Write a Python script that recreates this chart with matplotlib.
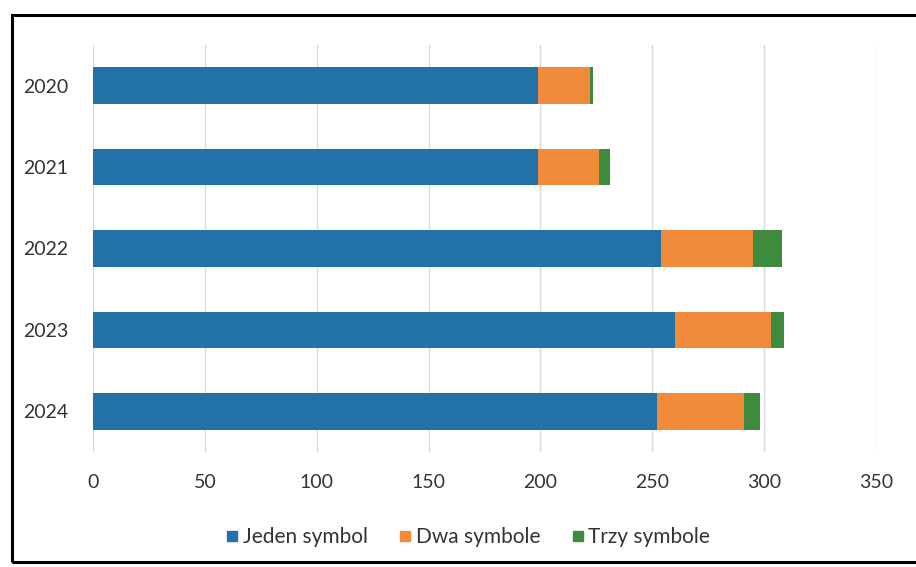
import matplotlib
matplotlib.use("Agg")
import matplotlib.pyplot as plt
from matplotlib.patches import Rectangle
from matplotlib.lines import Line2D

years = ["2020", "2021", "2022", "2023", "2024"]
jeden = [199, 199, 254, 260, 252]
dwa = [23, 27, 41, 43, 39]
trzy = [1.5, 5, 13, 6, 7]
series_names = ["Jeden symbol", "Dwa symbole", "Trzy symbole"]
colors = ["#2272A8", "#F28A3C", "#3E8B3E"]
xticks = [0, 50, 100, 150, 200, 250, 300, 350]

plt.rcParams['font.family'] = ['Lato', 'DejaVu Sans']

fig = plt.figure(figsize=(9.16, 5.67), dpi=100)
ax = fig.add_axes([93/916, 1 - 452/567, (876 - 93)/916, (452 - 45)/567])

ypos = list(range(len(years)))
h = 0.45
left2 = [a for a in jeden]
left3 = [a + b for a, b in zip(jeden, dwa)]
ax.barh(ypos, jeden, height=h, color=colors[0], zorder=3)
ax.barh(ypos, dwa, left=left2, height=h, color=colors[1], zorder=3)
ax.barh(ypos, trzy, left=left3, height=h, color=colors[2], zorder=3)

ax.set_xlim(0, 350)
ax.set_ylim(len(years) - 0.5, -0.5)
ax.set_xticks(xticks)
ax.set_xticklabels([str(t) for t in xticks])
ax.set_yticks(ypos)
ax.set_yticklabels(years)
ax.tick_params(axis='both', length=0, labelsize=14, colors="#333333")
ax.tick_params(axis='x', pad=16)
ax.tick_params(axis='y', pad=18)
ax.grid(axis='x', color="#DADADA", linewidth=1, zorder=0)
for s in ax.spines.values():
    s.set_visible(False)

handles = [Line2D([0], [0], marker='s', linestyle='None', markersize=7,
                  markerfacecolor=c, markeredgecolor=c) for c in colors]
fig.legend(handles, series_names, loc='center', bbox_to_anchor=(466/916, 1 - 537/567),
           ncol=3, frameon=False, fontsize=15, handletextpad=0.0, columnspacing=1.3,
           handlelength=1.0, labelcolor="#333333")

fig.patches.append(Rectangle((12/916, 1 - 562/567), (916 - 12)/916 + 0.01, (562 - 15)/567,
                             transform=fig.transFigure, fill=False, edgecolor="black",
                             linewidth=2.2))

fig.savefig("out.png", dpi=100)
